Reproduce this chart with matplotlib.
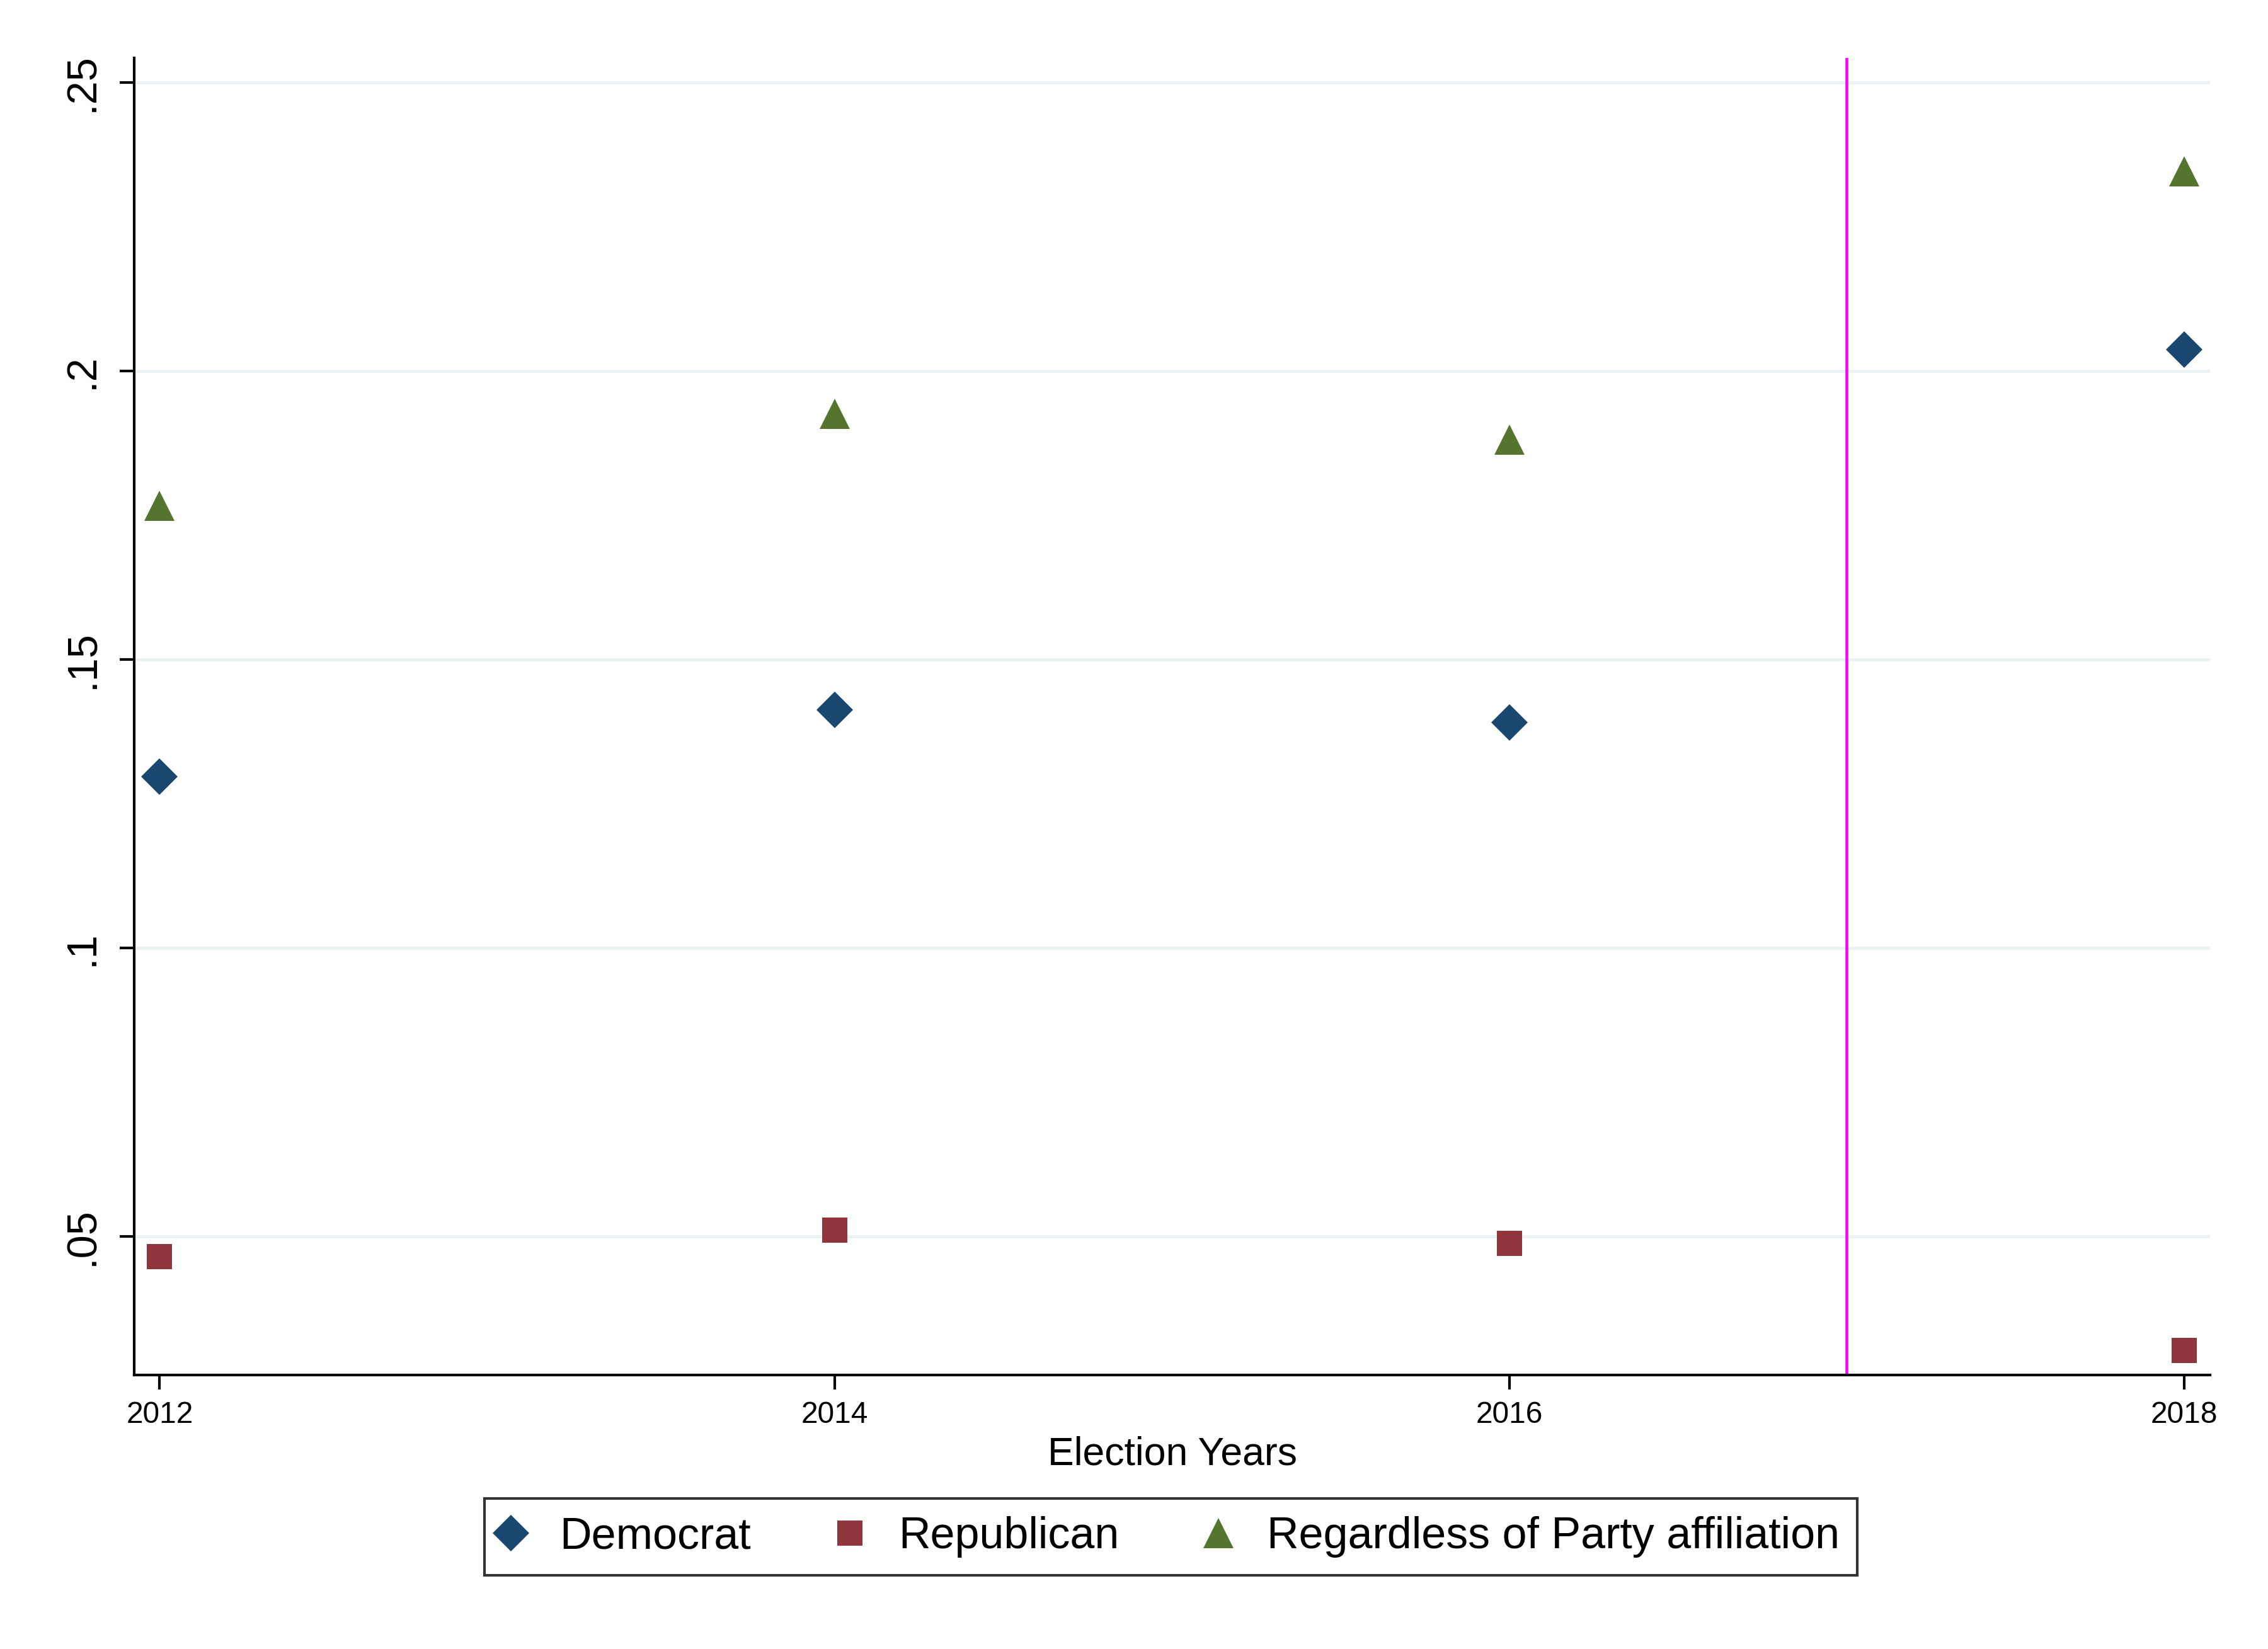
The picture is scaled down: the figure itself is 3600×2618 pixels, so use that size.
import matplotlib
matplotlib.use('Agg')
import matplotlib.pyplot as plt

plt.rcParams['font.family'] = ['Liberation Sans', 'DejaVu Sans']

# data
years = [2012, 2014, 2016, 2018]
democrat = [0.1297, 0.1412, 0.1390, 0.2037]
republican = [0.0465, 0.0510, 0.0487, 0.0302]
regardless = [0.1766, 0.1926, 0.1881, 0.2346]
y_ticks = [0.05, 0.10, 0.15, 0.20, 0.25]
y_tick_labels = ['.05', '.1', '.15', '.2', '.25']
cutoff_year = 2017

fig = plt.figure(figsize=(12, 2618 / 300), dpi=300)
ax = fig.add_axes([0.0592, 0.1662, 0.9153, 0.7987])

ax.plot(years, democrat, linestyle='none', marker='D', markersize=9.7,
        color='#1a476f', markeredgewidth=0, label='Democrat', zorder=3)
ax.plot(years, republican, linestyle='none', marker='s', markersize=9.6,
        color='#90353b', markeredgewidth=0, label='Republican', zorder=3)
ax.plot(years, regardless, linestyle='none', marker='^', markersize=11.5,
        color='#55752f', markeredgewidth=0, label='Regardless of Party affiliation', zorder=3)

ax.axvline(cutoff_year, color='#ff00ff', linewidth=1.1, zorder=2)

ax.set_xlim(2011.925, 2018.077)
ax.set_ylim(0.02594, 0.25426)
ax.set_xticks(years)
ax.set_xticklabels([str(y) for y in years], fontsize=11.5)
ax.set_yticks(y_ticks)
ax.set_yticklabels(y_tick_labels, fontsize=16, rotation=90, va='center')

ax.grid(axis='y', color='#eaf2f3', linewidth=1.1, zorder=0)
ax.set_axisbelow(True)
for side in ['top', 'right']:
    ax.spines[side].set_visible(False)
for side in ['left', 'bottom']:
    ax.spines[side].set_linewidth(1.0)
    ax.spines[side].set_color('black')
ax.tick_params(axis='both', direction='out', length=5.5, width=1.0, color='black')
ax.tick_params(axis='y', pad=6.7)
ax.tick_params(axis='x', pad=4.3)

ax.set_xlabel('Election Years', fontsize=15, labelpad=2.5)

leg = fig.legend(loc='center', bbox_to_anchor=(0.5163, 0.0678), ncol=3,
                 fontsize=16.8, frameon=True, fancybox=False, edgecolor='black',
                 handlelength=0.4, handletextpad=0.9, columnspacing=2.05,
                 borderpad=0.4)
leg.get_frame().set_linewidth(1.0)

plt.savefig('out.png', dpi=300, facecolor='white')
plt.close()
